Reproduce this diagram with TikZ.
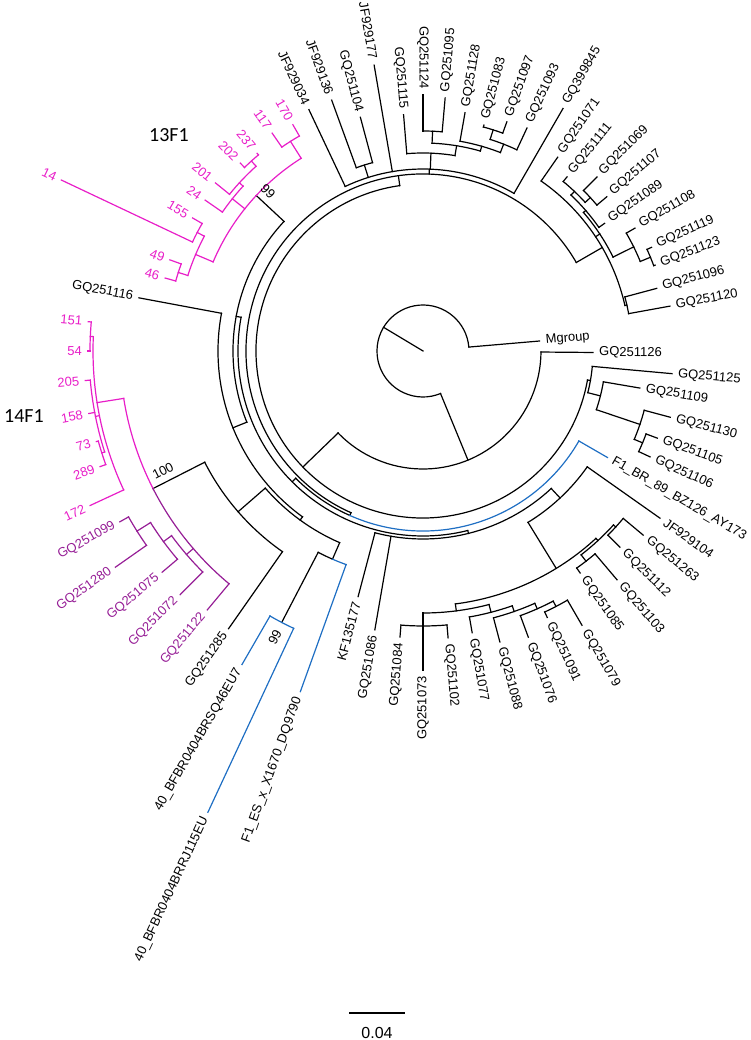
\documentclass[tikz,border=0pt]{standalone}
\usepackage{fontspec}
\newfontfamily\lf{Liberation Sans}
\newfontfamily\cf{Carlito}
\definecolor{mag}{RGB}{232,30,200}
\definecolor{pur}{RGB}{150,30,150}
\definecolor{blu}{RGB}{30,110,195}
\newcommand\Tbr[4][black]{\draw[tr,#1] (#2:#3pt) -- (#2:#4pt);}
\newcommand\Tarc[4][black]{\draw[tr,#1] (#2:#4pt) arc[start angle=#2,end angle=#3,radius=#4pt];}
\newcommand\LR[5][black]{\pgfmathsetmacro\Trr{#4+6}\node[lab,text=#1,anchor=west,rotate=#3] (#2) at (#3:\Trr pt) {#5};}
\newcommand\LL[5][black]{\pgfmathsetmacro\Trr{#4+6}\node[lab,text=#1,anchor=east,rotate=#3+180] (#2) at (#3:\Trr pt) {#5};}
\tikzset{
  tr/.style={line width=1.2pt, line cap=rect},
  lab/.style={font=\lf\fontsize{13}{15}\selectfont, inner sep=0pt},
  clade/.style={font=\cf\fontsize{20}{24}\selectfont, inner sep=0pt},
  boot/.style={font=\lf\fontsize{13}{15}\selectfont, inner sep=0pt},
  scalelab/.style={font=\lf\fontsize{16}{18}\selectfont, inner sep=0pt}
}
\begin{document}
\begin{tikzpicture}[x=1pt,y=1pt]
\useasboundingbox (-423,-689) rectangle (327,351);
% root
\coordinate (root) at (0,0);
\draw[tr] (root) -- (149:46pt);
\Tarc{4.9}{292.4}{46}
\Tbr{4.9}{46}{117} \LR{nMg}{4.9}{117}{Mgroup}
\Tbr{-67.6}{46}{118}
\Tarc{-136}{-0.5}{118}
\Tbr{-0.5}{118}{170} \LR{n126}{-0.5}{170}{GQ251126}
\Tbr{-136}{118}{167}
\Tarc{98}{350}{167}
% GQ251125 cluster
\Tbr{-10}{167}{170}
\Tarc{-14.2}{-5.2}{170}
\Tbr{-5.2}{170}{250} \LR{n125}{-5.2}{250}{GQ251125}
\Tbr{-14.2}{170}{183}
\Tarc{-18.7}{-9.7}{183}
\Tbr{-9.7}{183}{220} \LR{n109}{-9.7}{220}{GQ251109}
\Tbr{-18.7}{183}{229}
\Tarc{-22.7}{-15}{229}
\Tbr{-15}{229}{256} \LR{n130}{-15}{256}{GQ251130}
\Tbr{-22.7}{229}{238}
\Tarc{-25}{-20.4}{238}
\Tbr{-20.4}{238}{250} \LR{n105}{-20.4}{250}{GQ251105}
\Tbr{-25}{238}{250.5} \LR{n106}{-25}{250.5}{GQ251106}
% R1
\Tbr{98}{167}{177}
\Tarc{30}{246}{177}
% top-right cluster
\Tbr{30}{177}{207}
\Tarc{12.7}{55.2}{207}
\Tbr{55.2}{207}{236} \LR{n071}{55.2}{236}{GQ251071}
\Tbr{12.7}{207}{209}
\Tarc{10.3}{15}{209}
\Tbr{15}{209}{242} \LR{n096}{15}{242}{GQ251096}
\Tbr{10.3}{209}{251} \LR{n120}{10.3}{251}{GQ251120}
\Tbr{33.5}{207}{212}
\Tarc{26.3}{40.8}{212}
\Tbr{40.8}{212}{215}
\Tarc{35.1}{46.5}{215}
\Tbr{35.1}{215}{222} \LR{n089}{35.1}{222}{GQ251089}
\Tbr{46.5}{215}{220}
\Tarc{42.5}{50.4}{220}
\Tbr{50.4}{220}{226} \LR{n111}{50.4}{226}{GQ251111}
\Tbr{42.5}{220}{227}
\Tarc{40}{45}{227}
\Tbr{45}{227}{246} \LR{n069}{45}{246}{GQ251069}
\Tbr{40}{227}{240} \LR{n107}{40}{240}{GQ251107}
\Tbr{26.3}{212}{235}
\Tarc{22.4}{30.1}{235}
\Tbr{30.1}{235}{245} \LR{n108}{30.1}{245}{GQ251108}
\Tbr{22.4}{235}{246}
\Tarc{20.3}{24.4}{246}
\Tbr{24.4}{246}{251} \LR{n119}{24.4}{251}{GQ251119}
\Tbr{20.3}{246}{247.5} \LR{n123}{20.3}{247.5}{GQ251123}
% top cluster
\Tbr{88}{177}{182}
\Tarc{60}{115.3}{182}
\Tbr{60}{182}{280} \LR{n845}{60}{280}{GQ399845}
\Tbr{99.7}{182}{290} \LL{n177}{99.7}{290}{JF929177}
\Tbr{115.3}{182}{267} \LL{n034}{115.3}{267}{JF929034}
\Tbr{107.5}{182}{195}
\Tarc{105}{110}{195}
\Tbr{110}{195}{267} \LL{n136}{110}{267}{JF929136}
\Tbr{105}{195}{242} \LL{n104}{105}{242}{GQ251104}
\Tbr{87.7}{182}{198}
\Tarc{80.7}{94.7}{198}
\Tbr{94.7}{198}{237} \LL{n115}{94.7}{237}{GQ251115}
\Tbr{80.7}{198}{208}
\Tarc{74}{87.5}{208}
\Tbr{87.5}{208}{220}
\Tarc{85}{90}{220}
\Tbr{90}{220}{256} \LL{n124}{90}{256}{GQ251124}
\Tbr{85}{220}{254} \LR{n095}{85}{254}{GQ251095}
\Tbr{74}{208}{213}
\Tarc{68.7}{80}{213}
\Tbr{80}{213}{242} \LR{n128}{80}{242}{GQ251128}
\Tbr{68.7}{213}{222}
\Tarc{65}{72.4}{222}
\Tbr{65}{222}{246} \LR{n093}{65}{246}{GQ251093}
\Tbr{72.4}{222}{232}
\Tarc{69.9}{74.9}{232}
\Tbr{74.9}{232}{234} \LR{n083}{74.9}{234}{GQ251083}
\Tbr{69.9}{232}{244} \LR{n097}{69.9}{244}{GQ251097}
% V (blue F1_BR)
\Tbr{246}{177}{180}
\Tarc{225}{246}{180}
\Tarc[blu]{246}{330}{180}
\Tbr[blu]{330}{180}{213} \LR{nBR}{330}{213}{F1\_BR\_89\_BZ126\_AY173}
% W
\Tbr{225}{180}{185}
\Tarc{169.5}{284}{185}
% H
\Tbr{169.5}{185}{190}
\Tarc{137}{202}{190}
\Tbr{137}{190}{228}
% 13F1
\Tarc[mag]{122.3}{157}{228}
\Tbr[mag]{122.3}{228}{248}
\Tarc[mag]{119.9}{124.7}{248}
\Tbr[mag]{119.9}{248}{261} \LL[mag]{n170}{119.9}{261}{170}
\Tbr[mag]{124.7}{248}{265} \LL[mag]{n117}{124.7}{265}{117}
\Tbr[mag]{141.4}{228}{244}
\Tarc[mag]{137.5}{145.3}{244}
\Tbr[mag]{145.3}{244}{265} \LL[mag]{n24}{145.3}{265}{24}
\Tbr[mag]{137.5}{244}{249}
\Tarc[mag]{132.1}{141}{249}
\Tbr[mag]{141}{249}{267} \LL[mag]{n201}{141}{267}{201}
\Tbr[mag]{132.1}{249}{256}
\Tarc[mag]{130}{134.2}{256}
\Tbr[mag]{130}{256}{258} \LL[mag]{n237}{130}{258}{237}
\Tbr[mag]{134.2}{256}{262} \LL[mag]{n202}{134.2}{262}{202}
\Tbr[mag]{157}{228}{247}
\Tarc[mag]{152.3}{162.2}{247}
\Tbr[mag]{162.2}{247}{257}
\Tarc[mag]{160.2}{164.2}{257}
\Tbr[mag]{160.2}{257}{269} \LL[mag]{n49}{160.2}{269}{49}
\Tbr[mag]{164.2}{257}{268} \LL[mag]{n46}{164.2}{268}{46}
\Tbr[mag]{152.3}{247}{255}
\Tarc[mag]{150}{154.7}{255}
\Tbr[mag]{150}{255}{266} \LL[mag]{n155}{150}{266}{155}
\Tbr[mag]{154.7}{255}{400} \LL[mag]{n14}{154.7}{400}{14}
% G
\Tbr{202}{190}{205}
\Tarc{169.4}{234}{205}
\Tbr{169.4}{205}{289} \LL{n116}{169.4}{289}{GQ251116}
\Tbr{234}{205}{209}
\Tarc{221}{246.5}{209}
% S
\Tbr{221}{209}{245}
\Tarc{207}{235}{245}
\Tbr{235}{245}{339} \LL{n285}{235}{339}{GQ251285}
\Tbr{207}{245}{303}
% 14F1
\Tarc[mag]{189}{207}{303}
\Tarc[pur]{207}{230.2}{303}
\Tbr[pur]{230.2}{303}{337} \LL[pur]{n122}{230.2}{337}{GQ251122}
\Tbr[pur]{220.7}{303}{312}
\Tarc[pur]{216.3}{225.1}{312}
\Tbr[pur]{225.1}{312}{344} \LL[pur]{n072}{225.1}{344}{GQ251072}
\Tbr[pur]{216.3}{312}{322}
\Tarc[pur]{212.2}{220.3}{322}
\Tbr[pur]{220.3}{322}{342} \LL[pur]{n075}{220.3}{342}{GQ251075}
\Tbr[pur]{212.2}{322}{338}
\Tarc[pur]{209.4}{215.1}{338}
\Tbr[pur]{209.4}{338}{348} \LL[pur]{n099}{209.4}{348}{GQ251099}
\Tbr[pur]{215.1}{338}{376} \LL[pur]{n280}{215.1}{376}{GQ251280}
\Tbr[mag]{189}{303}{330}
\Tarc[mag]{177.5}{204.9}{330}
\Tbr[mag]{204.9}{330}{367} \LL[mag]{n172}{204.9}{367}{172}
\Tbr[mag]{177.5}{330}{333}
\Tarc[mag]{175}{180}{333}
\Tbr[mag]{175}{333}{336} \LL[mag]{n151}{175}{336}{151}
\Tbr[mag]{180}{333}{335} \LL[mag]{n54}{180}{335}{54}
\Tbr[mag]{191.3}{330}{334}
\Tarc[mag]{185}{197.6}{334}
\Tbr[mag]{185}{334}{339} \LL[mag]{n205}{185}{339}{205}
\Tbr[mag]{190.6}{334}{340} \LL[mag]{n158}{190.6}{340}{158}
\Tbr[mag]{197.6}{334}{337}
\Tarc[mag]{195.5}{199.7}{337}
\Tbr[mag]{195.5}{337}{339} \LL[mag]{n73}{195.5}{339}{73}
\Tbr[mag]{199.7}{337}{343} \LL[mag]{n289}{199.7}{343}{289}
% Q blue clade
\Tbr{246.5}{209}{227}
\Tarc{242.5}{246.5}{227}
\Tarc[blu]{246.5}{250.2}{227}
\Tbr[blu]{250.2}{227}{362} \LL{nES}{250.2}{362}{F1\_ES\_x\_X1670\_DQ9790}
\Tbr{242.5}{227}{306}
\Tarc[blu]{240}{245}{306}
\Tbr[blu]{240}{306}{362} \LL{nSQ}{240}{362}{40\_BFBR0404BRSQ46EU7}
\Tbr[blu]{245}{306}{509} \LL{nRJ}{245}{509}{40\_BFBR0404BRRJ115EU}
% Y
\Tbr{284}{185}{188}
\Tarc{255.2}{313}{188}
\Tbr{255.2}{188}{254} \LL{nKF}{255.2}{254}{KF135177}
\Tbr{260.2}{188}{283} \LL{n086}{260.2}{283}{GQ251086}
\Tbr{313}{188}{201}
\Tarc{301.5}{324.8}{201}
\Tbr{324.8}{201}{290} \LR{nJF104}{324.8}{290}{JF929104}
\Tbr{301.5}{201}{255}
\Tarc{277.3}{312.7}{255}
\Tbr{277.3}{255}{262}
\Tarc{270}{284.6}{262}
\Tbr{270}{262}{275}
\Tarc{265.4}{275}{275}
\Tbr{265.4}{275}{287} \LL{n084}{265.4}{287}{GQ251084}
\Tbr{270}{275}{319} \LL{n073}{270}{319}{GQ251073}
\Tbr{275}{275}{288} \LR{n102}{275}{288}{GQ251102}
\Tbr{284.6}{262}{270}
\Tarc{279.9}{289.3}{270}
\Tbr{279.9}{270}{286} \LR{n077}{279.9}{286}{GQ251077}
\Tbr{289.3}{270}{276}
\Tarc{284.8}{293.9}{276}
\Tbr{284.8}{276}{301} \LR{n088}{284.8}{301}{GQ251088}
\Tbr{293.9}{276}{282}
\Tarc{290.2}{297.5}{282}
\Tbr{290.2}{282}{305} \LR{n076}{290.2}{305}{GQ251076}
\Tbr{297.5}{282}{288}
\Tarc{295}{300.1}{288}
\Tbr{295}{288}{294} \LR{n091}{295}{294}{GQ251091}
\Tbr{300.1}{288}{317} \LR{n079}{300.1}{317}{GQ251079}
\Tbr{312.7}{255}{258}
\Tarc{307.8}{317.6}{258}
\Tbr{307.8}{258}{266}
\Tarc{305.3}{310.3}{266}
\Tbr{305.3}{266}{272} \LR{n085}{305.3}{272}{GQ251085}
\Tbr{310.3}{266}{300} \LR{n103}{310.3}{300}{GQ251103}
\Tbr{317.6}{258}{261}
\Tarc{315.1}{320.1}{261}
\Tbr{315.1}{261}{278} \LR{n112}{315.1}{278}{GQ251112}
\Tbr{320.1}{261}{287} \LR{n263}{320.1}{287}{GQ251263}
% clade and support labels
\node[clade] (c13) at (-254,216) {13F1};
\node[clade] (c14) at (-399,-65) {14F1};
\node[boot,rotate=-45] (b99a) at (-155,160) {99};
\node[boot,rotate=27] (b100) at (-260,-120) {100};
\node[boot,rotate=62.5] (b99b) at (-148,-286) {99};
% scale bar
\coordinate (sb1) at (-73,-662);
\coordinate (sb2) at (-19,-662);
\draw[tr] (sb1) -- (sb2);
\node[scalelab] (sbl) at (-46,-682) {0.04};
\end{tikzpicture}
\end{document}
